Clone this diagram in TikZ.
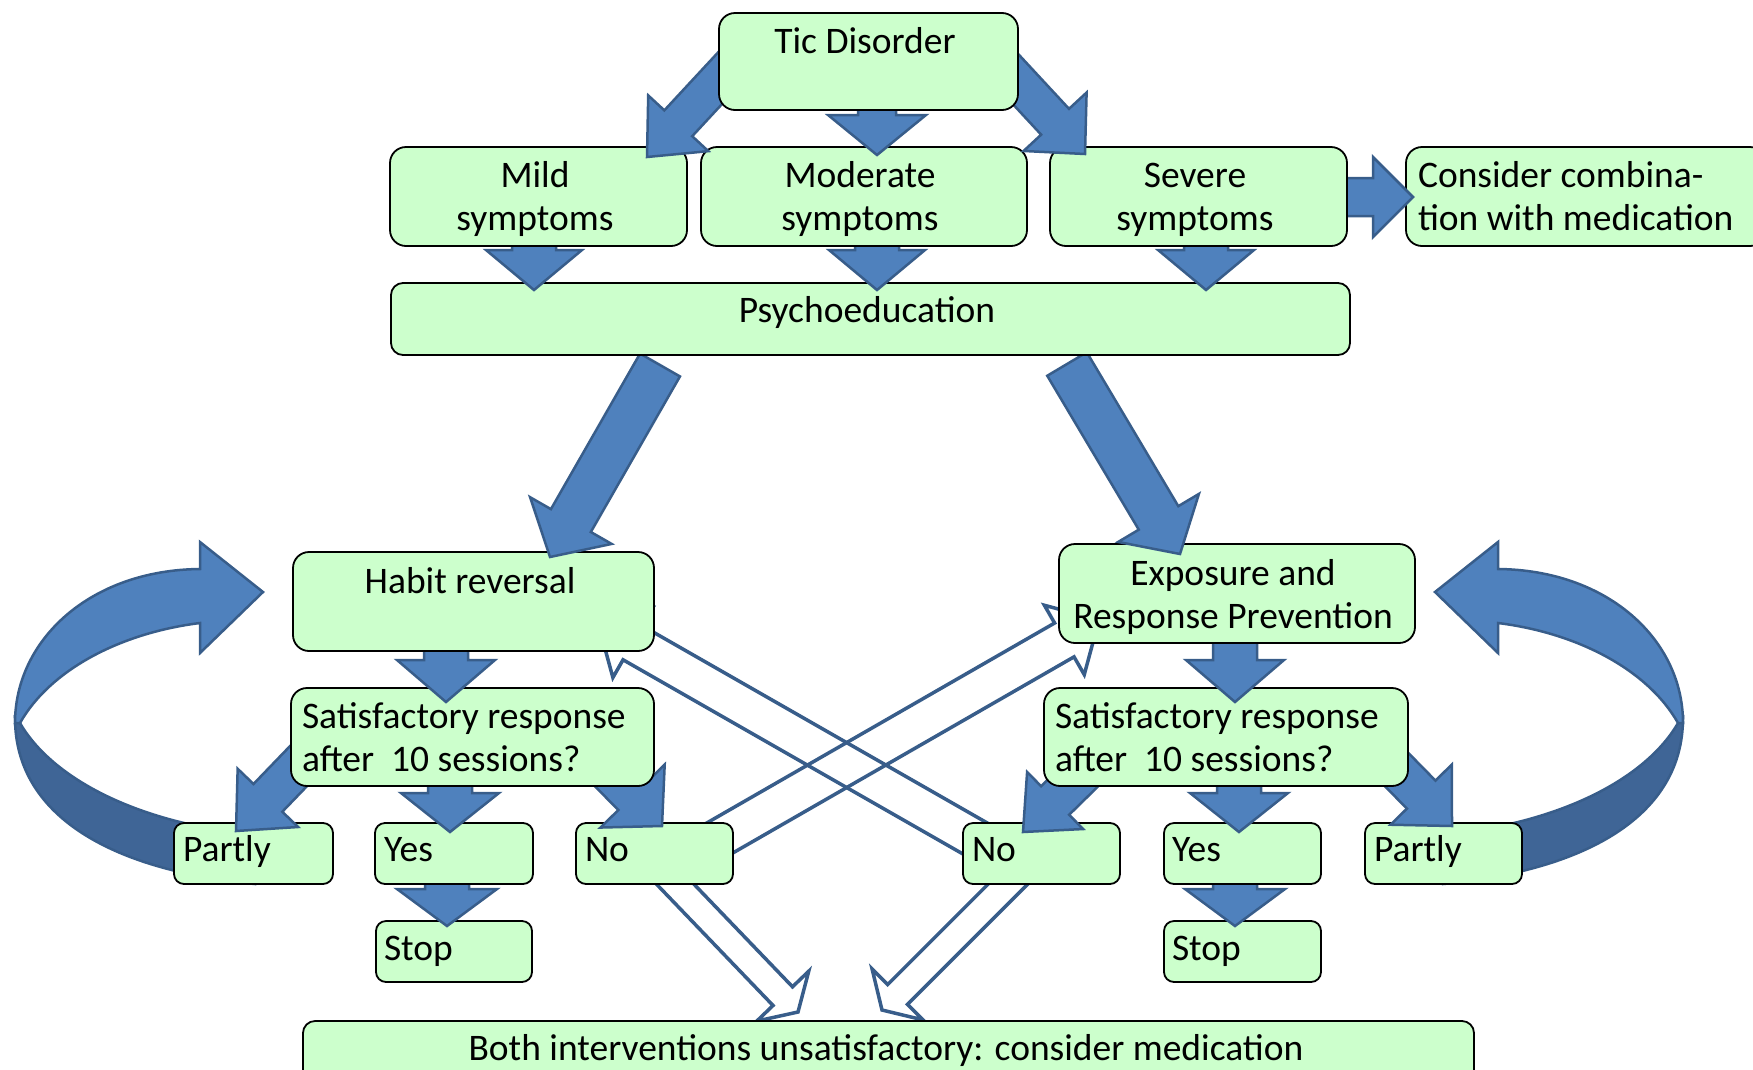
\documentclass[tikz,border=0pt]{standalone}
\usepackage{fontspec}
\setmainfont{Carlito}
\usetikzlibrary{calc}
\definecolor{boxfill}{HTML}{CCFFCC}
\definecolor{arrfill}{HTML}{4F81BD}
\definecolor{arredge}{HTML}{385D8A}
\definecolor{arrdark}{HTML}{3F6596}
\tikzset{
 box/.style={draw=black, line width=1.8pt, fill=boxfill, inner sep=0pt, outer sep=0pt, anchor=north west},
 txt/.style={inner sep=0pt, outer sep=0pt, font=\fontsize{37.5}{43.5}\selectfont},
 solidarrow/.style={fill=arrfill, draw=arredge, line width=2.5pt, line join=miter},
 hollowarrow/.style={draw=arredge, line width=3.5pt, line join=miter},
 bandlight/.style={fill=arrfill, draw=arredge, line width=2.5pt, line join=miter},
 banddark/.style={fill=arrdark, draw=arredge, line width=2.5pt},
}
% block arrow: [style]{tail}{tip}{half shaft}{half head}{head length}
\newcommand\blockarr[6][solidarrow]{%
  \coordinate (tmpH) at ($(#3)!#6!(#2)$);
  \draw[#1] ($(#2)!#4!90:(#3)$) -- ($(tmpH)!#4!90:(#3)$) -- ($(tmpH)!#5!90:(#3)$) -- (#3)
    -- ($(tmpH)!#5!-90:(#3)$) -- ($(tmpH)!#4!-90:(#3)$) -- ($(#2)!#4!-90:(#3)$) -- cycle;
}
\newcommand\curvedloop{%
  \path[banddark] (15,718) .. controls (15,815) and (110,870) .. (255,884) -- (255,835)
    .. controls (130,822) and (50,775) .. (20,723) -- cycle;
  \path[bandlight] (15,723) .. controls (15,640) and (90,570) .. (200,569) -- (200,542) -- (263,592)
    -- (200,653) -- (200,623) .. controls (120,633) and (50,670) .. (20,723) -- cycle;
}
\begin{document}
\begin{tikzpicture}[x=1pt,y=-1pt]
\useasboundingbox (0,0) rectangle (1753,1069);
\clip (0,0) rectangle (1753,1069);

% loops
\curvedloop
\begin{scope}[xshift=1698pt,xscale=-1]
\curvedloop
\end{scope}

% hollow arrows
\coordinate (ha-t) at (678,862);  \coordinate (ha-h) at (1099,620);
\coordinate (hb-t) at (1011,859); \coordinate (hb-h) at (598,623);
\coordinate (hc-t) at (653,861);  \coordinate (hc-h) at (798,1012);
\coordinate (hd-t) at (1025,867); \coordinate (hd-h) at (882,1010);
\blockarr[hollowarrow]{ha-t}{ha-h}{19.5pt}{40pt}{40pt}
\blockarr[hollowarrow]{hb-t}{hb-h}{19.5pt}{40pt}{40pt}
\blockarr[hollowarrow]{hc-t}{hc-h}{13.5pt}{36pt}{22pt}
\blockarr[hollowarrow]{hd-t}{hd-h}{14pt}{36pt}{22pt}

% bottom box
\node[box, minimum width=1171pt, minimum height=80pt, rounded corners=12pt] (both) at (303,1021) {};
\node[txt, anchor=base] (both-t) at (886,1060) {Both interventions unsatisfactory: consider medication};

% stop boxes
\node[box, minimum width=156pt, minimum height=61pt, rounded corners=10pt] (stopL) at (376,921) {};
\node[box, minimum width=157pt, minimum height=61pt, rounded corners=10pt] (stopR) at (1164,921) {};
\node[txt, anchor=base west] (stopL-t) at (384,960) {Stop};
\node[txt, anchor=base west] (stopR-t) at (1172,960) {Stop};

% yes -> stop arrows
\coordinate (ysL-t) at (447,878); \coordinate (ysL-h) at (447,926);
\coordinate (ysR-t) at (1235,878); \coordinate (ysR-h) at (1235,926);
\blockarr{ysL-t}{ysL-h}{22pt}{50pt}{37pt}
\blockarr{ysR-t}{ysR-h}{22pt}{50pt}{37pt}

% answer row
\node[box, minimum width=159pt, minimum height=61pt, rounded corners=10pt] (partlyL) at (174,823) {};
\node[box, minimum width=158pt, minimum height=61pt, rounded corners=10pt] (yesL) at (375,823) {};
\node[box, minimum width=157pt, minimum height=61pt, rounded corners=10pt] (noL) at (576,823) {};
\node[box, minimum width=157pt, minimum height=61pt, rounded corners=10pt] (noR) at (963,823) {};
\node[box, minimum width=157pt, minimum height=61pt, rounded corners=10pt] (yesR) at (1164,823) {};
\node[box, minimum width=157pt, minimum height=61pt, rounded corners=10pt] (partlyR) at (1365,823) {};
\node[txt, anchor=base west] (partlyL-t) at (183,861) {Partly};
\node[txt, anchor=base west] (yesL-t) at (384,861) {Yes};
\node[txt, anchor=base west] (noL-t) at (585,861) {No};
\node[txt, anchor=base west] (noR-t) at (972,861) {No};
\node[txt, anchor=base west] (yesR-t) at (1172,861) {Yes};
\node[txt, anchor=base west] (partlyR-t) at (1374,861) {Partly};

% sat -> answers
\coordinate (spL-t) at (340,723);  \coordinate (spL-h) at (236,831);
\coordinate (syL-t) at (450,780);  \coordinate (syL-h) at (450,832);
\coordinate (snL-t) at (557,719);  \coordinate (snL-h) at (662,826);
\coordinate (snR-t) at (1130,727); \coordinate (snR-h) at (1023,832);
\coordinate (syR-t) at (1239,780); \coordinate (syR-h) at (1239,832);
\coordinate (spR-t) at (1347,719); \coordinate (spR-h) at (1452,826);
\blockarr{spL-t}{spL-h}{20pt}{42pt}{46pt}
\blockarr{syL-t}{syL-h}{22pt}{49pt}{39pt}
\blockarr{snL-t}{snL-h}{20pt}{45pt}{42pt}
\blockarr{snR-t}{snR-h}{20pt}{40pt}{45pt}
\blockarr{syR-t}{syR-h}{22pt}{49pt}{39pt}
\blockarr{spR-t}{spR-h}{20pt}{43pt}{44pt}

% satisfactory boxes
\node[box, minimum width=363pt, minimum height=98pt, rounded corners=16pt] (satL) at (291,688) {};
\node[box, minimum width=364pt, minimum height=98pt, rounded corners=16pt] (satR) at (1044,688) {};
\node[txt, anchor=base west] (satL-t) at (302,728) {\begin{tabular}[t]{@{}l@{}}Satisfactory response\\after\ \ 10 sessions?\end{tabular}};
\node[txt, anchor=base west] (satR-t) at (1055,728) {\begin{tabular}[t]{@{}l@{}}Satisfactory response\\after\ \ 10 sessions?\end{tabular}};

% therapy -> sat arrows
\coordinate (hs-t) at (446,645);  \coordinate (hs-h) at (446,702);
\coordinate (es-t) at (1235,637); \coordinate (es-h) at (1235,702);
\blockarr{hs-t}{hs-h}{22pt}{49pt}{42pt}
\blockarr{es-t}{es-h}{22pt}{49pt}{42pt}

% therapy boxes
\node[box, minimum width=361pt, minimum height=99pt, rounded corners=16pt] (habit) at (293,552) {};
\node[box, minimum width=356pt, minimum height=99pt, rounded corners=16pt] (erp) at (1059,544) {};
\node[txt, anchor=base] (habit-t) at (470,593) {Habit reversal};
\node[txt, anchor=base] (erp-t) at (1233,585) {\begin{tabular}[t]{@{}c@{}}Exposure and\\Response Prevention\end{tabular}};

% psychoeducation -> therapies
\coordinate (ph-t) at (660,365);  \coordinate (ph-h) at (550,557);
\coordinate (pe-t) at (1067,364); \coordinate (pe-h) at (1180,554);
\blockarr{ph-t}{ph-h}{23pt}{47pt}{42pt}
\blockarr{pe-t}{pe-h}{23pt}{47pt}{42pt}

% psychoeducation
\node[box, minimum width=959pt, minimum height=72pt, rounded corners=12pt] (psy) at (391,283) {};
\node[txt, anchor=base] (psy-t) at (867,322) {Psychoeducation};

% symptoms -> psychoeducation
\coordinate (mp-t) at (534,235);  \coordinate (mp-h) at (534,290);
\coordinate (op-t) at (877,235);  \coordinate (op-h) at (877,290);
\coordinate (sp-t) at (1206,235); \coordinate (sp-h) at (1206,290);
\blockarr{mp-t}{mp-h}{22pt}{48pt}{40pt}
\blockarr{op-t}{op-h}{22pt}{48pt}{40pt}
\blockarr{sp-t}{sp-h}{22pt}{48pt}{40pt}

% consider box and arrow
\node[box, minimum width=360pt, minimum height=99pt, rounded corners=16pt] (cons) at (1406,147) {};
\node[txt, anchor=base west] (cons-t) at (1418,187) {\begin{tabular}[t]{@{}l@{}}Consider combina-\\tion with medication\end{tabular}};
\coordinate (sc-t) at (1335,197); \coordinate (sc-h) at (1413,197);
\blockarr{sc-t}{sc-h}{19pt}{40pt}{40pt}

% symptom boxes
\node[box, minimum width=297pt, minimum height=99pt, rounded corners=16pt] (mild) at (390,147) {};
\node[box, minimum width=326pt, minimum height=99pt, rounded corners=16pt] (mod) at (701,147) {};
\node[box, minimum width=297pt, minimum height=99pt, rounded corners=16pt] (sev) at (1050,147) {};
\node[txt, anchor=base] (mild-t) at (535,187) {\begin{tabular}[t]{@{}c@{}}Mild\\symptoms\end{tabular}};
\node[txt, anchor=base] (mod-t) at (860,187) {\begin{tabular}[t]{@{}c@{}}Moderate\\symptoms\end{tabular}};
\node[txt, anchor=base] (sev-t) at (1195,187) {\begin{tabular}[t]{@{}c@{}}Severe\\symptoms\end{tabular}};

% tic -> symptoms
\coordinate (tm-t) at (749,47);  \coordinate (tm-h) at (647,157);
\coordinate (to-t) at (877,100); \coordinate (to-h) at (877,155);
\coordinate (ts-t) at (983,44);  \coordinate (ts-h) at (1085,154);
\blockarr{tm-t}{tm-h}{19pt}{41pt}{46pt}
\blockarr{to-t}{to-h}{19pt}{49pt}{40pt}
\blockarr{ts-t}{ts-h}{19pt}{43pt}{44pt}

% tic box
\node[box, minimum width=299pt, minimum height=97pt, rounded corners=16pt] (tic) at (719,13) {};
\node[txt, anchor=base] (tic-t) at (865,53) {Tic Disorder};
\end{tikzpicture}
\end{document}
